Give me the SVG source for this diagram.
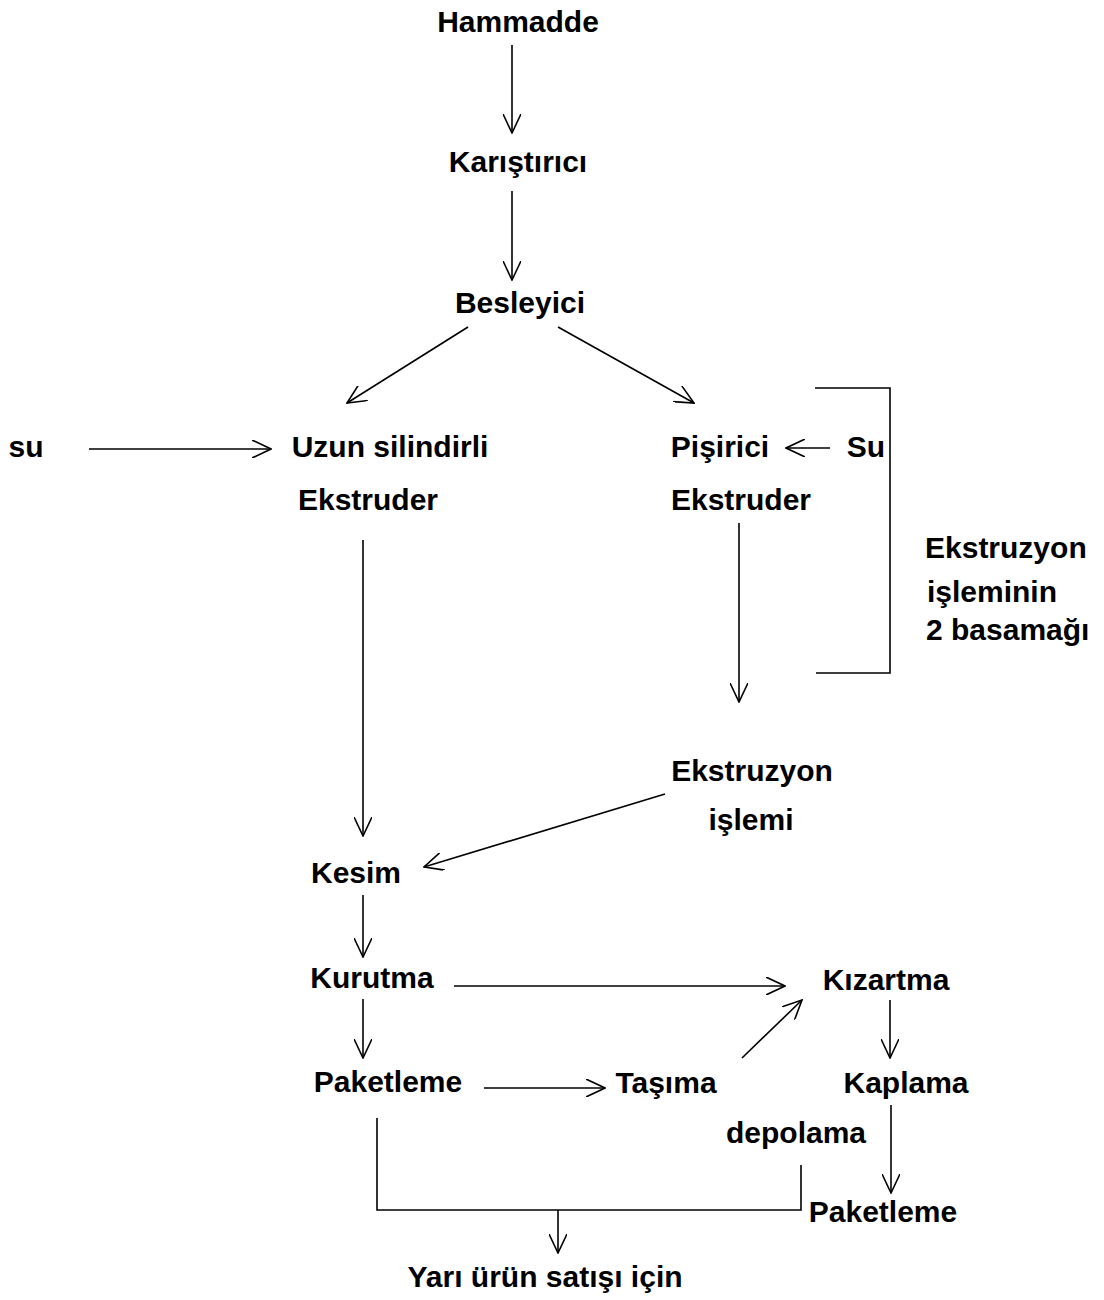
<svg xmlns="http://www.w3.org/2000/svg" width="1104" height="1300" viewBox="0 0 1104 1300">
<style>
text{font-family:"Liberation Sans",Arial,sans-serif;font-size:30px;font-weight:bold;fill:#000;text-anchor:middle}
text.l{text-anchor:start}
.c line,.c polyline{stroke:#000;stroke-width:1.6;fill:none}
.a{marker-end:url(#ah)}
</style>
<defs>
<marker id="ah" viewBox="0 0 20 18" refX="19" refY="9" markerWidth="20" markerHeight="18" markerUnits="userSpaceOnUse" orient="auto">
<path d="M0,0 L19,9 L0,18" fill="none" stroke="#000" stroke-width="1.6"/>
</marker>
</defs>
<rect width="1104" height="1300" fill="#fff"/>
<g class="c" id="connectors">
<line class="a" x1="512" y1="45" x2="512" y2="133"/>
<line class="a" x1="512" y1="191" x2="512" y2="280"/>
<line class="a" x1="468" y1="327" x2="347" y2="403"/>
<line class="a" x1="558" y1="327" x2="694" y2="403"/>
<line class="a" x1="89" y1="449" x2="271" y2="449"/>
<line class="a" x1="830" y1="448" x2="786" y2="448"/>
<polyline points="815,388 890,388 890,673 816,673"/>
<line class="a" x1="739" y1="523" x2="739" y2="702"/>
<line class="a" x1="363" y1="540" x2="363" y2="836"/>
<line class="a" x1="665" y1="794" x2="424" y2="867"/>
<line class="a" x1="363" y1="895" x2="363" y2="957"/>
<line class="a" x1="454" y1="986" x2="785" y2="986"/>
<line class="a" x1="363" y1="999" x2="363" y2="1058"/>
<line class="a" x1="484" y1="1088" x2="605" y2="1088"/>
<line class="a" x1="742" y1="1058" x2="802" y2="1000"/>
<line class="a" x1="890" y1="1000" x2="890" y2="1058"/>
<line class="a" x1="891" y1="1105" x2="891" y2="1193"/>
<polyline points="377,1118 377,1210 801,1210 801,1165"/>
<line class="a" x1="558" y1="1210" x2="558" y2="1253"/>
</g>
<g id="hammadde"><text x="518" y="32">Hammadde</text></g>
<g id="karistirici"><text x="518" y="172">Karıştırıcı</text></g>
<g id="besleyici"><text x="520" y="313">Besleyici</text></g>
<g id="su"><text x="26" y="457">su</text></g>
<g id="uzun-ekstruder"><text x="390" y="457">Uzun silindirli</text><text x="368" y="510">Ekstruder</text></g>
<g id="pisirici-ekstruder"><text x="720" y="457">Pişirici</text><text x="741" y="510">Ekstruder</text></g>
<g id="su2"><text x="866" y="457">Su</text></g>
<g id="basamak"><text class="l" x="925" y="558">Ekstruzyon</text><text class="l" x="927" y="602">işleminin</text><text class="l" x="926" y="640">2 basamağı</text></g>
<g id="ekstruzyon-islemi"><text x="752" y="781">Ekstruzyon</text><text x="751" y="830">işlemi</text></g>
<g id="kesim"><text x="356" y="883">Kesim</text></g>
<g id="kurutma"><text x="372" y="988">Kurutma</text></g>
<g id="kizartma"><text x="886" y="990">Kızartma</text></g>
<g id="paketleme1"><text x="388" y="1092">Paketleme</text></g>
<g id="tasima"><text x="666" y="1093">Taşıma</text></g>
<g id="kaplama"><text x="906" y="1093">Kaplama</text></g>
<g id="depolama"><text x="796" y="1143">depolama</text></g>
<g id="paketleme2"><text x="883" y="1222">Paketleme</text></g>
<g id="yari-urun"><text x="545" y="1287">Yarı ürün satışı için</text></g>
</svg>
